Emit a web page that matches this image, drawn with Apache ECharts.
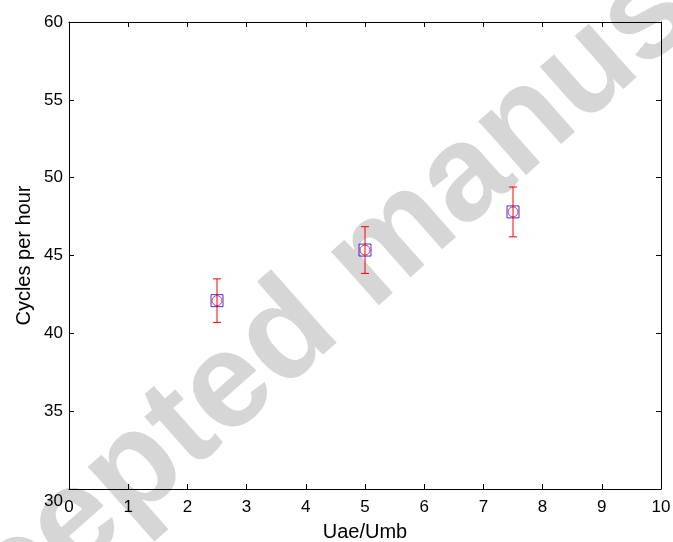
<!DOCTYPE html>
<html>
<head>
<meta charset="utf-8">
<script src="https://cdn.jsdelivr.net/npm/echarts@6/dist/echarts.min.js"></script>
<style>html,body{margin:0;padding:0;background:#fff;}#c{width:673px;height:542px;}</style>
</head>
<body>
<div id="c"></div>
<script>
var xValues = [2.5, 5, 7.5];
var yMeans = [42.1, 45.35, 47.8];
var yErrors = [1.4, 1.5, 1.6];
var xTicks = [0,1,2,3,4,5,6,7,8,9,10];
var yTicks = [30,35,40,45,50,55,60];
var xTitle = 'Uae/Umb';
var yTitle = 'Cycles per hour';
var watermark = 'Accepted manuscript';

var chart = echarts.init(document.getElementById('c'), null, {renderer:'canvas'});
var font = 'Liberation Sans, Arial, sans-serif';
var pts = xValues.map(function(x,i){return [x, yMeans[i]];});
var errData = xValues.map(function(x,i){return [x, yMeans[i]-yErrors[i], yMeans[i]+yErrors[i]];});

function axisCommon(){
  return {
    axisLine:{show:true,onZero:false,lineStyle:{color:'#000',width:1}},
    axisTick:{show:true,inside:true,length:5,lineStyle:{color:'#000'}},
    splitLine:{show:false}
  };
}
var xb = Object.assign(axisCommon(), {type:'value',min:xTicks[0],max:xTicks[xTicks.length-1],interval:1,position:'bottom',
  axisLabel:{color:'#000',fontSize:17,fontFamily:font,margin:10},
  name:xTitle,nameLocation:'middle',nameGap:33,nameMoveOverlap:false,nameTextStyle:{color:'#000',fontSize:20,fontFamily:font}});
var xt = Object.assign(axisCommon(), {type:'value',min:xTicks[0],max:xTicks[xTicks.length-1],interval:1,position:'top',axisLabel:{show:false}});
var yl = Object.assign(axisCommon(), {type:'value',min:yTicks[0],max:yTicks[yTicks.length-1],interval:5,position:'left',
  axisLabel:{color:'#000',fontSize:17,fontFamily:font,margin:6,
    formatter:function(v){ return v === yTicks[0] ? '{low|' + v + '}' : String(v); },
    rich:{low:{fontSize:17,fontFamily:font,color:'#000',padding:[24,0,0,0]}}},
  name:yTitle,nameLocation:'middle',nameGap:35,nameMoveOverlap:false,nameTextStyle:{color:'#000',fontSize:20,fontFamily:font}});
var yr = Object.assign(axisCommon(), {type:'value',min:yTicks[0],max:yTicks[yTicks.length-1],interval:5,position:'right',axisLabel:{show:false}});

chart.setOption({
  animation:false,
  backgroundColor:'#fff',
  graphic:[{
    type:'text', z:-10, silent:true,
    x:378, y:256, rotation:41.5*Math.PI/180,
    style:{text:watermark, font:'bold 136px Liberation Sans, Arial, sans-serif', fill:'#d6d6d6', align:'center', verticalAlign:'middle'}
  }],
  grid:{left:69,right:12,top:22,bottom:53,containLabel:false,outerBoundsMode:'none'},
  xAxis:[xb, xt],
  yAxis:[yl, yr],
  series:[
    {type:'custom', z:3, data:errData,
     renderItem:function(params, api){
       var x = api.value(0);
       var lo = api.coord([x, api.value(1)]);
       var hi = api.coord([x, api.value(2)]);
       var w = 4;
       var st = {stroke:'#ff0000', lineWidth:1};
       return {type:'group', children:[
         {type:'line', shape:{x1:lo[0],y1:lo[1],x2:hi[0],y2:hi[1]}, style:st},
         {type:'line', shape:{x1:lo[0]-w,y1:lo[1],x2:lo[0]+w,y2:lo[1]}, style:st},
         {type:'line', shape:{x1:hi[0]-w,y1:hi[1],x2:hi[0]+w,y2:hi[1]}, style:st}
       ]};
     }},
    {type:'scatter', z:4, data:pts, symbol:'rect', symbolSize:12,
     itemStyle:{color:'rgba(0,0,0,0)', borderColor:'#0000ff', borderWidth:1}},
    {type:'scatter', z:5, data:pts, symbol:'circle', symbolSize:10,
     itemStyle:{color:'rgba(0,0,0,0)', borderColor:'#ff0000', borderWidth:1}}
  ]
});
</script>
</body>
</html>
